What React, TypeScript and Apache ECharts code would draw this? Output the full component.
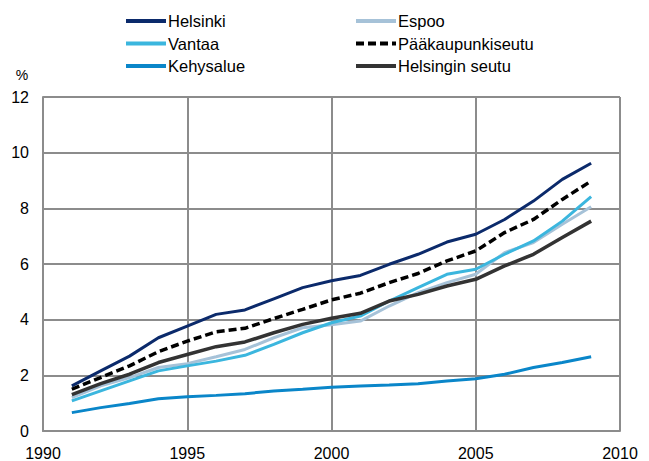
import React, { useEffect, useRef } from "react";
import * as echarts from "echarts";

const years = [1991, 1992, 1993, 1994, 1995, 1996, 1997, 1998, 1999, 2000, 2001, 2002, 2003, 2004, 2005, 2006, 2007, 2008, 2009];
const helsinki = [1.62, 2.16, 2.69, 3.35, 3.77, 4.19, 4.35, 4.75, 5.15, 5.4, 5.59, 5.99, 6.35, 6.79, 7.07, 7.6, 8.26, 9.04, 9.62];
const espoo = [1.2, 1.62, 1.92, 2.28, 2.42, 2.67, 2.93, 3.35, 3.71, 3.82, 3.95, 4.49, 4.97, 5.33, 5.63, 6.41, 6.77, 7.43, 8.06];
const vantaa = [1.08, 1.44, 1.8, 2.16, 2.34, 2.51, 2.72, 3.11, 3.53, 3.89, 4.13, 4.67, 5.15, 5.63, 5.81, 6.35, 6.83, 7.54, 8.42];
const paakaupunkiseutu = [1.5, 1.92, 2.34, 2.85, 3.23, 3.56, 3.69, 4.04, 4.37, 4.71, 4.95, 5.33, 5.66, 6.11, 6.47, 7.13, 7.6, 8.32, 8.98];
const kehysalue = [0.66, 0.84, 0.99, 1.16, 1.23, 1.28, 1.34, 1.44, 1.5, 1.57, 1.62, 1.65, 1.7, 1.8, 1.88, 2.04, 2.28, 2.46, 2.67];
const helsinginSeutu = [1.31, 1.7, 2.04, 2.46, 2.75, 3.03, 3.2, 3.53, 3.83, 4.05, 4.23, 4.67, 4.91, 5.21, 5.45, 5.93, 6.35, 6.95, 7.54];

const FONT = "'Liberation Sans', Arial, sans-serif";

export default function App() {
  const ref = useRef<HTMLDivElement>(null);
  useEffect(() => {
    if (!ref.current) return;
    const chart = echarts.init(ref.current, null, { renderer: "svg" });
    const mk = (name: string, data: number[], color: string, width: number, type: any = "solid") => ({
      name,
      type: "line",
      symbol: "circle",
      symbolSize: 0,
      showSymbol: false,
      data: years.map((y, i) => [y, data[i]]),
      lineStyle: { color, width, type },
      itemStyle: { color },
    });
    const legendBase = {
      orient: "vertical",
      top: 6,
      itemWidth: 40,
      itemHeight: 14,
      itemGap: 2.5,
      itemStyle: { opacity: 0 },
      lineStyle: { width: 4 },
      textStyle: { fontFamily: FONT, fontSize: 16.5, color: "#000", lineHeight: 20, padding: [0, 0, 0, -3] },
    };
    chart.setOption({
      animation: false,
      backgroundColor: "#fff",
      textStyle: { fontFamily: FONT },
      grid: { left: 43, right: 29, top: 97, bottom: 30 },
      legend: [
        { ...legendBase, left: 119, data: ["Helsinki", "Vantaa", "Kehysalue"] },
        { ...legendBase, left: 349, data: ["Espoo", "Pääkaupunkiseutu", "Helsingin seutu"] },
      ],
      graphic: [
        { type: "text", x: 22, y: 75, style: { text: "%", fontFamily: FONT, fontSize: 14, fill: "#000", align: "center", verticalAlign: "middle" } },
      ],
      xAxis: {
        type: "value",
        min: 1990,
        max: 2010,
        interval: 5,
        axisLine: { show: true, lineStyle: { color: "#8c8c8c", width: 2 } },
        axisTick: { show: false },
        axisLabel: { color: "#000", fontSize: 16, fontFamily: FONT, margin: 14, formatter: (v: number) => String(v) },
        splitLine: { show: true, lineStyle: { color: "#8c8c8c", width: 2 } },
      },
      yAxis: {
        type: "value",
        min: 0,
        max: 12,
        interval: 2,
        axisLine: { show: true, lineStyle: { color: "#8c8c8c", width: 2 } },
        axisTick: { show: false },
        axisLabel: { color: "#000", fontSize: 16, fontFamily: FONT, margin: 14 },
        splitLine: { show: true, lineStyle: { color: "#8c8c8c", width: 2 } },
      },
      series: [
        mk("Helsinki", helsinki, "#0b2a6b", 3),
        mk("Espoo", espoo, "#a6c2d8", 3),
        mk("Vantaa", vantaa, "#3bb6de", 3),
        mk("Pääkaupunkiseutu", paakaupunkiseutu, "#000000", 3.5, [8, 4]),
        mk("Kehysalue", kehysalue, "#0a86c9", 3),
        mk("Helsingin seutu", helsinginSeutu, "#333333", 3.5),
      ],
    });
    return () => chart.dispose();
  }, []);
  return <div ref={ref} style={{ width: 649, height: 461, position: "absolute", left: 0, top: 0 }} />;
}
